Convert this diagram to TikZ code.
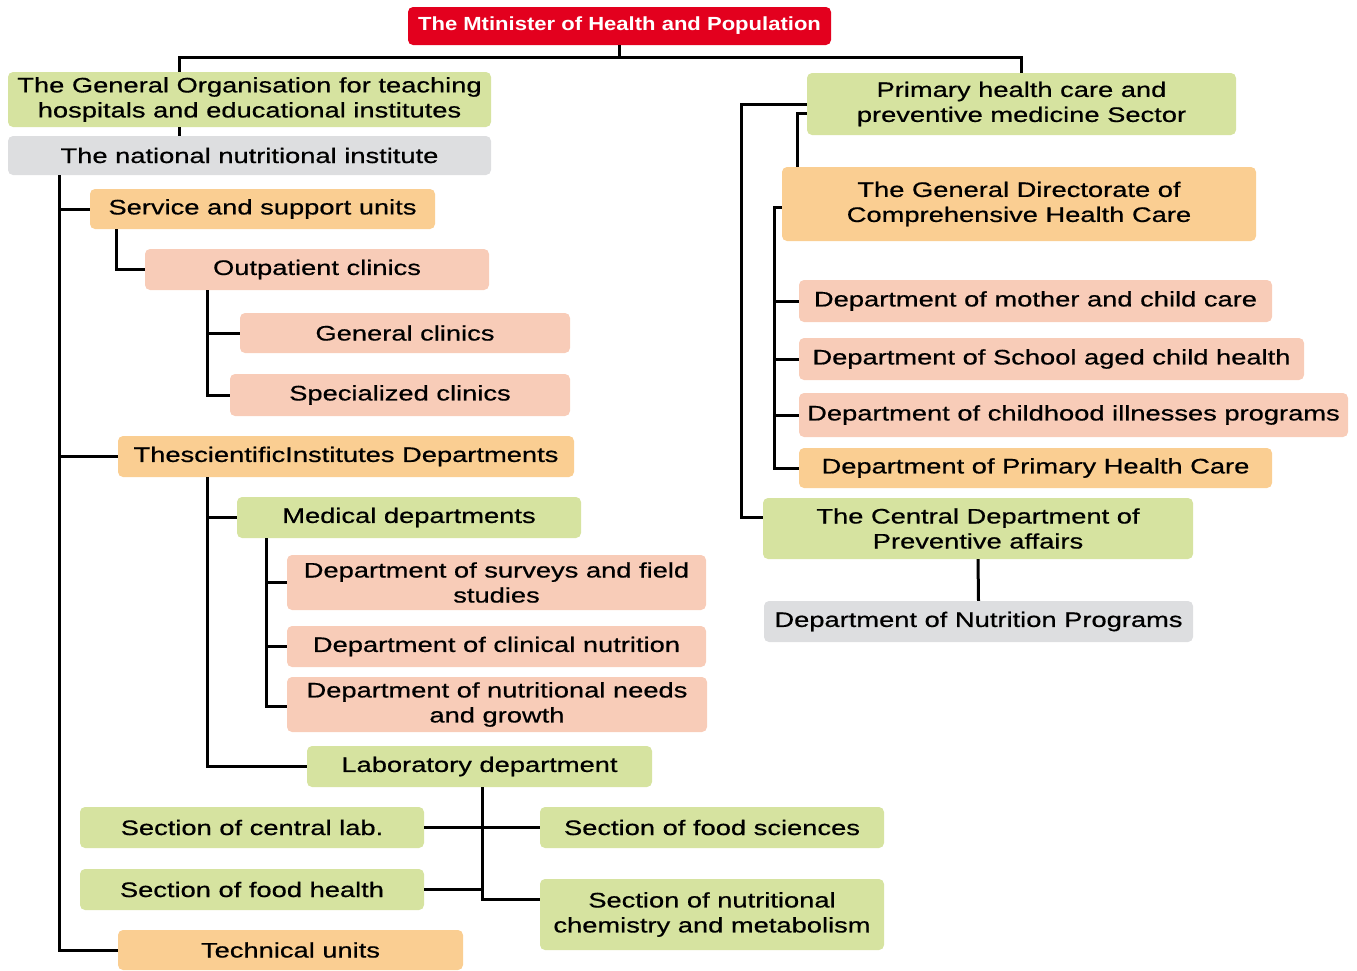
\documentclass[tikz,border=0pt]{standalone}
\usepackage{fontspec}
\setmainfont{Liberation Sans}[FakeStretch=1.3, FakeBold=0.6]
\newfontfamily\titlefont{Liberation Sans}[FakeStretch=1.16]
\definecolor{orgred}{RGB}{227,0,30}
\definecolor{orggreen}{RGB}{214,227,160}
\definecolor{orggray}{RGB}{221,222,224}
\definecolor{orgorange}{RGB}{250,206,146}
\definecolor{orgpink}{RGB}{248,204,184}
\begin{document}
\begin{tikzpicture}[x=1pt,y=-1pt,
    box/.style={rounded corners=5pt, align=center, inner sep=2pt,
        font=\fontsize{21}{25}\selectfont},
    greenbox/.style={box, fill=orggreen},
    graybox/.style={box, fill=orggray},
    orangebox/.style={box, fill=orgorange},
    pinkbox/.style={box, fill=orgpink},
    redbox/.style={box, fill=orgred, text=white, font=\titlefont\bfseries\fontsize{19}{23}\selectfont},
    link/.style={line width=3pt}]
    \useasboundingbox (0,0) rectangle (1357,970);
    % top
    \node[redbox, minimum width=423pt, minimum height=38pt] (minister) at (619.5,26) {The Mtinister of Health and Population};
    % left branch
    \node[greenbox, minimum width=483pt, minimum height=55pt] (genorg) at (249.5,99.5) {The General Organisation for teaching\\hospitals and educational institutes};
    \node[graybox, minimum width=483pt, minimum height=39pt] (national) at (249.5,155.5) {The national nutritional institute};
    \node[orangebox, minimum width=345pt, minimum height=40pt] (service) at (262.5,209) {Service and support units};
    \node[pinkbox, minimum width=344pt, minimum height=41pt] (outpatient) at (317,269.5) {Outpatient clinics};
    \node[pinkbox, minimum width=330pt, minimum height=40pt] (general) at (405,333) {General clinics};
    \node[pinkbox, minimum width=340pt, minimum height=42pt] (special) at (400,395) {Specialized clinics};
    \node[orangebox, minimum width=456pt, minimum height=41pt] (thesci) at (346,456.5) {ThescientificInstitutes Departments};
    \node[greenbox, minimum width=344pt, minimum height=41pt] (medical) at (409,517.5) {Medical departments};
    \node[pinkbox, minimum width=419pt, minimum height=55pt] (surveys) at (496.5,582.5) {Department of surveys and field\\studies};
    \node[pinkbox, minimum width=419pt, minimum height=41pt] (clinical) at (496.5,646.5) {Department of clinical nutrition};
    \node[pinkbox, minimum width=420pt, minimum height=55pt] (needs) at (497,704.5) {Department of nutritional needs\\and growth};
    \node[greenbox, minimum width=345pt, minimum height=41pt] (lab) at (479.5,766.5) {Laboratory department};
    \node[greenbox, minimum width=344pt, minimum height=41pt] (centrallab) at (252,827.5) {Section of central lab.};
    \node[greenbox, minimum width=344pt, minimum height=41pt] (foodhealth) at (252,889.5) {Section of food health};
    \node[orangebox, minimum width=345pt, minimum height=40pt] (technical) at (290.5,950) {Technical units};
    \node[greenbox, minimum width=344pt, minimum height=41pt] (foodsci) at (712,827.5) {Section of food sciences};
    \node[greenbox, minimum width=344pt, minimum height=71pt] (nutrchem) at (712,914.5) {Section of nutritional\\chemistry and metabolism};
    % right branch
    \node[greenbox, minimum width=429pt, minimum height=62pt] (primary) at (1021.5,104) {Primary health care and\\preventive medicine Sector};
    \node[orangebox, minimum width=474pt, minimum height=74pt] (gendir) at (1019,204) {The General Directorate of\\Comprehensive Health Care};
    \node[pinkbox, minimum width=473pt, minimum height=42pt] (mother) at (1035.5,301) {Department of mother and child care};
    \node[pinkbox, minimum width=505pt, minimum height=42pt] (school) at (1051.5,359) {Department of School aged child health};
    \node[pinkbox, minimum width=549pt, minimum height=44pt] (childhood) at (1073.5,415) {Department of childhood illnesses programs};
    \node[orangebox, minimum width=473pt, minimum height=40pt] (phc) at (1035.5,468) {Department of Primary Health Care};
    \node[greenbox, minimum width=430pt, minimum height=61pt] (central) at (978,528.5) {The Central Department of\\Preventive affairs};
    \node[graybox, minimum width=429pt, minimum height=41pt] (nutrprog) at (978.5,621.5) {Department of Nutrition Programs};
    % connectors
    \draw[link] (minister.south) -- ++(0,12) coordinate (top);
    \draw[link] ([xshift=172pt]genorg.north west) |- (top) -| (primary.north);
    \draw[link] ([xshift=172pt]genorg.south west) -- ([xshift=172pt]national.north west);
    \draw[link] ([xshift=52pt]national.south west) coordinate (nt) |- (technical.west);
    \draw[link] (nt) |- (service.west);
    \draw[link] (nt) |- (thesci.west);
    \draw[link] ([xshift=27pt]service.south west) |- (outpatient.west);
    \draw[link] ([xshift=63pt]outpatient.south west) coordinate (ot) |- (special.west);
    \draw[link] (ot) |- (general.west);
    \draw[link] ([xshift=90pt]thesci.south west) coordinate (tt) |- (lab.west);
    \draw[link] (tt) |- (medical.west);
    \draw[link] ([xshift=30pt]medical.south west) coordinate (mt) |- ([yshift=-2pt]needs.west);
    \draw[link] (mt) |- (surveys.west);
    \draw[link] (mt) |- (clinical.west);
    \draw[link] ([xshift=2.5pt]lab.south) coordinate (lt) |- ([yshift=15pt]nutrchem.west);
    \draw[link] (centrallab.east) -- (foodsci.west);
    \draw[link] (foodhealth.east) -- (foodhealth.east -| lt);
    \draw[link] (primary.west) -- ++(-65,0) |- ([yshift=11pt]central.west);
    \draw[link] ([yshift=-9pt]primary.west) -| ([xshift=16pt]gendir.north west);
    \draw[link] ([yshift=-3pt]gendir.west) -- ++(-7,0) coordinate (gt) |- (phc.west);
    \draw[link] (gt) |- (mother.west);
    \draw[link] (gt) |- (school.west);
    \draw[link] (gt) |- (childhood.west);
    \draw[link] (central.south) -- (nutrprog.north);
\end{tikzpicture}
\end{document}
